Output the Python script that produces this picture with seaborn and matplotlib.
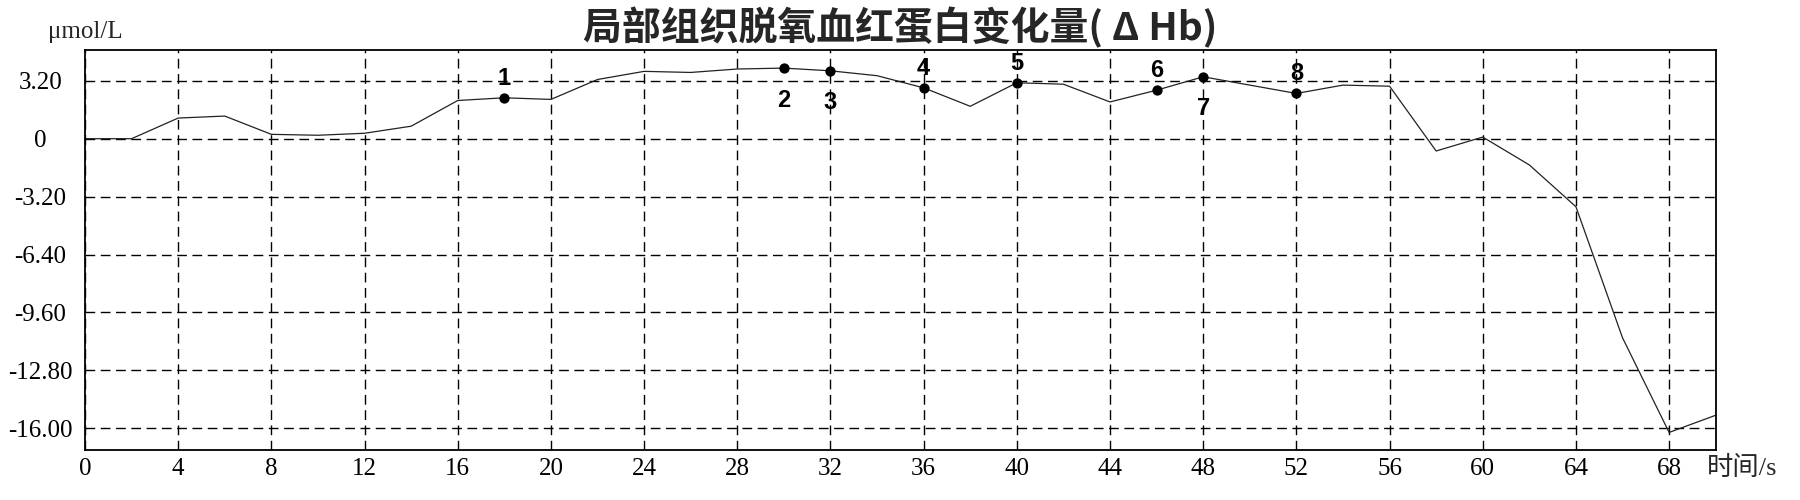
import matplotlib
matplotlib.use("Agg")
import matplotlib.pyplot as plt
import seaborn as sns
import pandas as pd

# ---- data ----
time_s = list(range(0, 72, 2))
delta_hb = [0, 0, 1.14, 1.25, 0.24, 0.19, 0.30, 0.69, 2.11, 2.26,
            2.17, 3.27, 3.72, 3.66, 3.85, 3.90, 3.75, 3.48, 2.81, 1.79,
            3.09, 3.01, 2.03, 2.68, 3.42, 2.96, 2.50, 2.96, 2.90, -0.68,
            0.09, -1.45, -3.76, -11.0, -16.23, -15.28]
marker_times = [18, 30, 32, 36, 40, 46, 48, 52]
marker_labels = ["1", "2", "3", "4", "5", "6", "7", "8"]
marker_side = ["above", "below", "below", "above", "above", "above", "below", "above"]
x_ticks = list(range(0, 72, 4))
y_ticks = [3.2, 0, -3.2, -6.4, -9.6, -12.8, -16.0]
y_tick_labels = ["3.20", "0", "-3.20", "-6.40", "-9.60", "-12.80", "-16.00"]
title = "局部组织脱氧血红蛋白变化量( Δ Hb)"
y_unit = "μmol/L"
x_unit = "时间/s"

df = pd.DataFrame({"t": time_s, "v": delta_hb})
mk = df[df["t"].isin(marker_times)].copy()

sns.set_theme(style="white")
plt.rcParams["font.family"] = ["Liberation Serif", "Noto Sans CJK SC", "DejaVu Sans"]

fig = plt.figure(figsize=(18, 5), dpi=100)
ax = fig.add_axes([85 / 1800, 0.1, (1715.7 - 85) / 1800, 0.8])

sns.lineplot(data=df, x="t", y="v", ax=ax, color="#222222", linewidth=0.9)
sns.scatterplot(data=mk, x="t", y="v", ax=ax, color="black", s=55,
                edgecolor="black", linewidth=0, zorder=5)

for t, lab, side in zip(marker_times, marker_labels, marker_side):
    v = df.loc[df["t"] == t, "v"].iloc[0]
    dy = 14 if side == "above" else -23
    ax.annotate(lab, (t, v), xytext=(0, dy), textcoords="offset points",
                ha="center", va="center", fontsize=17, fontweight="bold",
                family=["Liberation Sans", "DejaVu Sans"], color="black")

ax.set_xlim(0, 70)
ax.set_ylim(-17.2, 4.9)
ax.set_xticks(x_ticks)
ax.set_xticklabels([str(x) for x in x_ticks])
ax.set_yticks(y_ticks)
ax.set_yticklabels(y_tick_labels)
ax.set_xlabel("")
ax.set_ylabel("")

ax.grid(True, color="black", linestyle=(0, (7, 4)), linewidth=1.0)
ax.set_axisbelow(True)
for sp in ax.spines.values():
    sp.set_color("black")
    sp.set_linewidth(1.3)
    sp.set_visible(True)

ax.tick_params(axis="both", length=0, labelsize=18, colors="black")
ax.tick_params(axis="x", pad=6)
ax.tick_params(axis="y", pad=32)
for lbl in ax.get_yticklabels():
    lbl.set_horizontalalignment("center")

fig.text(0.5, 0.945, title, ha="center", va="center", fontsize=28,
         fontweight="bold", family=["Noto Sans CJK SC", "DejaVu Sans"])
fig.text(48 / 1800, 1 - 32 / 500, y_unit, ha="left", va="center", fontsize=18)
fig.text(1707 / 1800, 1 - 468 / 500, x_unit, ha="left", va="center", fontsize=19)

fig.savefig("out.png", dpi=100, facecolor="white")
